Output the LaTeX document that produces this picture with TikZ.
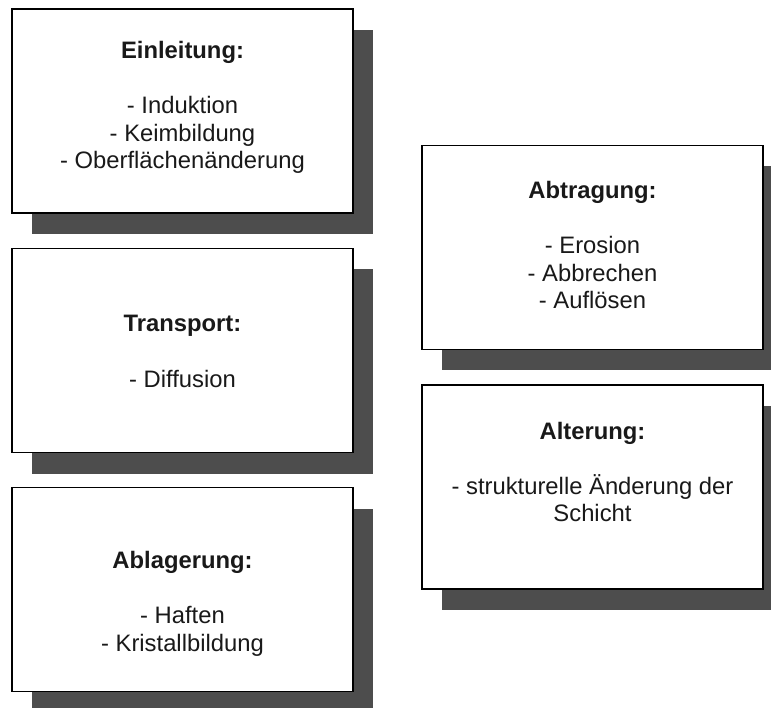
\documentclass[tikz,border=0pt]{standalone}
\usepackage{fontspec}
\setmainfont{Liberation Sans}
\definecolor{shadowc}{HTML}{4D4D4D}
\tikzset{
  box/.style={draw=black, line width=1.2pt, fill=white, minimum width=341pt, minimum height=204pt, inner sep=0pt},
  txt/.style={align=center, inner sep=0pt, font=\fontsize{23.8pt}{27.6pt}\selectfont, text=black!90},
  shad/.style={fill=shadowc}
}
\begin{document}
\begin{tikzpicture}[x=1pt,y=-1pt]
\useasboundingbox (0,0) rectangle (771,708);
% shadows
\foreach \c/\y in {182.5/111, 182.5/350.5, 182.5/589.5, 592.5/247.5, 592.5/487}{
  \fill[shad] (\c-170.5+20,\y-102+21) rectangle (\c+170.5+20,\y+102+21);
}
\node[box] (b1) at (182.5,111) {};
\node[box] (b2) at (182.5,350.5) {};
\node[box] (b3) at (182.5,589.5) {};
\node[box] (b4) at (592.5,247.5) {};
\node[box] (b5) at (592.5,487) {};
\node[txt] (t1) at (182.5,107.5) {\textbf{Einleitung:}\\[27.6pt]- Induktion\\- Keimbildung\\- Oberflächenänderung};
\node[txt] (t2) at (182.5,351.5) {\textbf{Transport:}\\[27.6pt]- Diffusion};
\node[txt] (t3) at (182.5,604) {\textbf{Ablagerung:}\\[27.6pt]- Haften\\- Kristallbildung};
\node[txt] (t4) at (592.5,245) {\textbf{Abtragung:}\\[27.6pt]- Erosion\\- Abbrechen\\- Auflösen};
\node[txt] (t5) at (592.5,472) {\textbf{Alterung:}\\[27.6pt]- strukturelle Änderung der\\Schicht};
\end{tikzpicture}
\end{document}
